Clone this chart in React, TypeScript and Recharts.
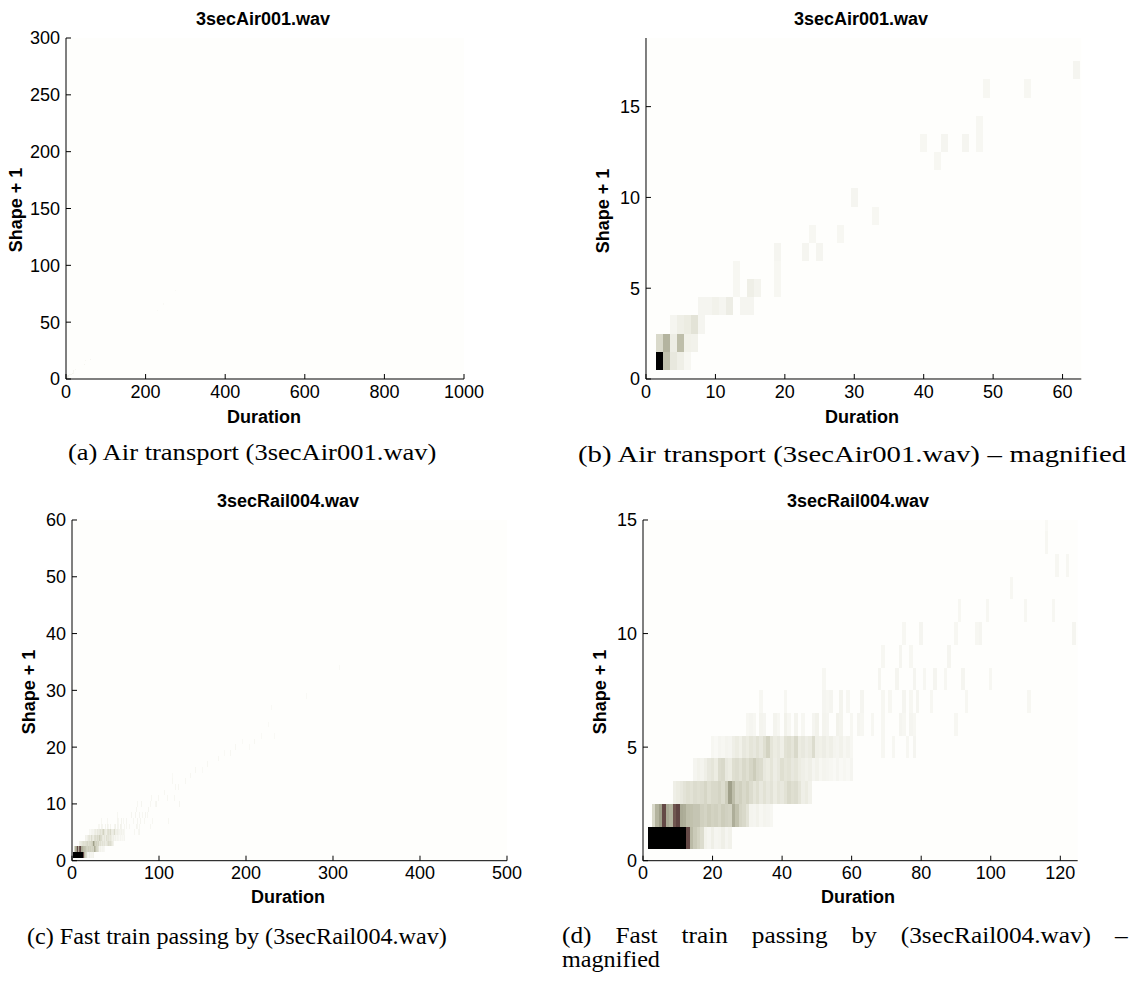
import React from "react"
import { ScatterChart, Scatter, XAxis, YAxis, ReferenceArea } from "recharts"

const SANS = "'Liberation Sans', Arial, Helvetica, sans-serif"
const SERIF = "'Liberation Serif', 'Times New Roman', serif"
const BG = "#fefefc"

// 3secAir001.wav — one list per "Shape + 1" row, entries are [duration, intensity %]
const airShape1 = [[2, 100], [3, 38], [4, 12], [5, 8], [6, 3]]
const airShape2 = [[2, 22], [3, 45], [4, 9], [5, 40], [6, 7], [7, 6]]
const airShape3 = [[4, 4], [5, 8], [6, 10], [7, 15], [8, 4]]
const airShape4 = [[8, 4], [9, 4], [10, 6], [11, 4], [12, 9], [14, 4], [15, 4]]
const airShape5 = [[13, 3], [15, 8], [16, 5], [19, 3]]
const airShape6 = [[13, 3], [19, 3]]
const airShape7 = [[19, 4], [23, 4], [25, 4]]
const airShape8 = [[24, 3], [28, 3]]
const airShape9 = [[33, 3]]
const airShape10 = [[30, 4]]
const airShape11: number[][] = []
const airShape12 = [[42, 3]]
const airShape13 = [[40, 3], [43, 4], [46, 4], [48, 3]]
const airShape14 = [[48, 3]]
const airShape15: number[][] = []
const airShape16 = [[49, 3], [55, 3]]
const airShape17 = [[62, 4]]
// faint cells outside the magnified window: [duration, shape + 1, intensity %]
const airFaint = [[230, 60, 2], [245, 66, 2], [262, 72, 2], [275, 78, 2]]

// 3secRail004.wav
const railShape1 = [
  [2, 100], [3, 100], [4, 100], [5, 100], [6, 100], [7, 100], [8, 100], [9, 100], [10, 100], [11, 100], [12, 100],
  [13, 80], [14, 42], [15, 32], [16, 26], [17, 20], [18, 6], [19, 4], [20, 8], [21, 4], [22, 5], [23, 8], [24, 4], [25, 6],
]
const railShape2 = [
  [3, 22], [4, 45], [5, 55], [6, 80], [7, 50], [8, 45], [9, 75], [10, 82], [11, 50], [12, 48], [13, 40], [14, 38],
  [15, 35], [16, 35], [17, 28], [18, 25], [19, 30], [20, 26], [21, 28], [22, 24], [23, 30], [24, 27], [25, 25],
  [26, 48], [27, 38], [28, 25], [29, 22], [30, 15], [31, 5], [32, 4], [33, 6], [34, 3], [35, 5], [36, 4], [37, 3],
]
const railShape3 = [
  [9, 8], [10, 10], [11, 12], [12, 15], [13, 18], [14, 16], [15, 20], [16, 18], [17, 20], [18, 24], [19, 18], [20, 22],
  [21, 22], [22, 25], [23, 20], [24, 30], [25, 55], [26, 40], [27, 25], [28, 28], [29, 22], [30, 26], [31, 20], [32, 14],
  [33, 18], [34, 12], [35, 16], [36, 12], [37, 15], [38, 10], [39, 14], [40, 12], [41, 16], [42, 22], [43, 18], [44, 20],
  [45, 14], [46, 8], [47, 10], [48, 6],
]
const railShape4 = [
  [15, 4], [16, 6], [17, 5], [18, 8], [19, 12], [20, 14], [21, 10], [22, 20], [23, 22], [24, 12], [25, 10], [26, 18],
  [27, 20], [28, 16], [29, 22], [30, 18], [31, 24], [32, 30], [33, 22], [34, 20], [35, 12], [36, 10], [37, 14], [38, 9],
  [39, 12], [40, 18], [41, 14], [42, 16], [43, 12], [44, 14], [45, 10], [46, 8], [47, 6], [48, 8], [49, 4], [50, 6],
  [51, 3], [52, 5], [53, 4], [54, 3], [55, 2], [56, 4], [57, 2], [58, 3], [59, 2], [60, 4],
]
const railShape5 = [
  [20, 3], [21, 2], [22, 4], [23, 3], [24, 5], [25, 4], [26, 8], [27, 10], [28, 7], [29, 12], [30, 10], [31, 14],
  [32, 12], [33, 16], [34, 12], [35, 18], [36, 26], [37, 14], [38, 10], [39, 12], [40, 8], [41, 16], [42, 18], [43, 14],
  [44, 22], [45, 10], [46, 12], [47, 9], [48, 11], [49, 20], [50, 8], [51, 7], [52, 9], [53, 6], [54, 8], [55, 5],
  [56, 4], [57, 6], [58, 3], [59, 5], [60, 3], [69, 3], [72, 3], [76, 3], [78, 4],
]
const railShape6 = [
  [30, 3], [31, 4], [32, 3], [34, 5], [35, 4], [38, 5], [39, 3], [41, 6], [42, 3], [44, 5], [46, 3], [49, 4], [50, 6],
  [52, 5], [53, 4], [56, 6], [57, 5], [60, 3], [62, 4], [63, 3], [66, 3], [69, 3], [74, 4], [75, 3], [77, 4], [78, 3], [90, 3],
]
const railShape7 = [
  [34, 3], [41, 3], [52, 4], [53, 3], [54, 4], [57, 5], [59, 3], [63, 4], [69, 3], [71, 3], [75, 4], [77, 3], [79, 4],
  [83, 3], [93, 3], [111, 3],
]
const railShape8 = [[52, 3], [68, 4], [73, 4], [78, 4], [81, 3], [84, 4], [87, 3], [92, 4], [100, 3]]
const railShape9 = [[69, 3], [74, 4], [77, 3], [88, 4]]
const railShape10 = [[75, 3], [80, 4], [90, 3], [96, 3], [97, 4], [124, 4]]
const railShape11 = [[91, 3], [99, 3], [110, 3], [118, 3]]
const railShape12 = [[106, 3]]
const railShape13 = [[119, 3], [122, 3]]
const railShape14 = [[116, 3]]
const railShape15 = [[116, 2]]
const railFaint = [
  [130, 14, 3], [136, 15, 3], [142, 16, 3], [150, 16, 2], [156, 17, 3], [162, 17, 2], [168, 18, 3], [175, 19, 2],
  [182, 19, 3], [188, 20, 3], [196, 21, 2], [204, 20, 2], [210, 21, 3], [218, 22, 2], [226, 24, 2], [229, 27, 2],
  [233, 22, 2], [270, 29, 2], [307, 34, 2],
]

const airRows = [airShape1, airShape2, airShape3, airShape4, airShape5, airShape6, airShape7, airShape8, airShape9,
  airShape10, airShape11, airShape12, airShape13, airShape14, airShape15, airShape16, airShape17]
const railRows = [railShape1, railShape2, railShape3, railShape4, railShape5, railShape6, railShape7, railShape8,
  railShape9, railShape10, railShape11, railShape12, railShape13, railShape14, railShape15]

type Cell = { d: number; s: number; v: number }

function toCells(rows: number[][][], extra: number[][]): Cell[] {
  const out: Cell[] = []
  rows.forEach((row, i) => row.forEach(([d, v]) => out.push({ d, s: i + 1, v })))
  extra.forEach(([d, s, v]) => out.push({ d, s, v }))
  return out
}

const airCells = toCells(airRows, airFaint)
const railCells = toCells(railRows, railFaint)

// white -> olive grey -> brown -> black
const stops: [number, number[]][] = [
  [0, [254, 254, 252]], [3, [247, 247, 242]], [8, [239, 239, 231]], [15, [227, 227, 215]],
  [25, [212, 212, 196]], [40, [190, 190, 170]], [55, [160, 160, 138]], [65, [140, 126, 110]],
  [75, [112, 86, 80]], [85, [88, 60, 60]], [95, [30, 20, 20]], [100, [0, 0, 0]],
]

function heat(v: number) {
  for (let i = 1; i < stops.length; i++) {
    const [v1, c1] = stops[i]
    const [v0, c0] = stops[i - 1]
    if (v <= v1) {
      const t = (v - v0) / (v1 - v0)
      const c = c0.map((a, k) => Math.round(a + (c1[k] - a) * t))
      return `rgb(${c[0]},${c[1]},${c[2]})`
    }
  }
  return "#000"
}

const panels = [
  {
    id: "a", cells: airCells, left: 66, top: 38, right: 464, bottom: 379, xMax: 1000, yMax: 300,
    xTicks: [0, 200, 400, 600, 800, 1000], yTicks: [0, 50, 100, 150, 200, 250, 300],
    title: "3secAir001.wav", titleX: 263, titleY: 25, durX: 264, durY: 423, ylabX: 16, ylabY: 210,
  },
  {
    id: "b", cells: airCells, left: 645.7, top: 38, right: 1081, bottom: 379, xMax: 62.7, yMax: 18.78,
    xTicks: [0, 10, 20, 30, 40, 50, 60], yTicks: [0, 5, 10, 15],
    title: "3secAir001.wav", titleX: 861, titleY: 25, durX: 862, durY: 423, ylabX: 603, ylabY: 211,
  },
  {
    id: "c", cells: railCells, left: 72, top: 520, right: 507, bottom: 860.7, xMax: 500, yMax: 60,
    xTicks: [0, 100, 200, 300, 400, 500], yTicks: [0, 10, 20, 30, 40, 50, 60],
    title: "3secRail004.wav", titleX: 288, titleY: 507, durX: 288, durY: 903, ylabX: 29, ylabY: 692,
  },
  {
    id: "d", cells: railCells, left: 642.6, top: 520, right: 1077.3, bottom: 860.7, xMax: 125, yMax: 15,
    xTicks: [0, 20, 40, 60, 80, 100, 120], yTicks: [0, 5, 10, 15],
    title: "3secRail004.wav", titleX: 858, titleY: 507, durX: 858, durY: 903, ylabX: 600, ylabY: 692,
  },
]

const captions = [
  { text: "(a) Air transport (3secAir001.wav)", x: 68, y: 460, w: 370, maxStretch: 1.25 },
  { text: "(b) Air transport (3secAir001.wav) \u2013 magnified", x: 578, y: 462, w: 550, maxStretch: 1.25 },
  { text: "(c) Fast train passing by (3secRail004.wav)", x: 27, y: 944, w: 420, maxStretch: 1.25 },
  { text: "(d) Fast train passing by (3secRail004.wav) \u2013", x: 562, y: 943, w: 566, maxStretch: 1.1 },
  { text: "magnified", x: 562, y: 967, w: 98, maxStretch: 1.25 },
]

const CAPTION_SIZE = 23

let measureCtx: CanvasRenderingContext2D | null = null
function textWidth(text: string) {
  if (!measureCtx) measureCtx = document.createElement("canvas").getContext("2d")
  if (!measureCtx) return text.length * CAPTION_SIZE * 0.45
  measureCtx.font = `${CAPTION_SIZE}px 'Liberation Serif'`
  return measureCtx.measureText(text).width
}

function Caption({ text, x, y, w, maxStretch }: { text: string; x: number; y: number; w: number; maxStretch: number }) {
  // widen the glyphs a bit (closer to Computer Modern), put what is left into the spaces
  const natural = textWidth(text)
  const spaces = text.split(" ").length - 1
  const sx = spaces > 0 ? Math.min(w / natural, maxStretch) : w / natural
  const extra = spaces > 0 ? Math.max(0, (w / sx - natural) / spaces) : 0
  return (
    <text
      transform={`translate(${x} ${y}) scale(${sx} 1)`}
      fontFamily={SERIF}
      fontSize={CAPTION_SIZE}
      fill="#000"
      style={{ wordSpacing: `${extra}px` }}
    >
      {text}
    </text>
  )
}

type PanelDef = (typeof panels)[number]

function HeatPanel({ p }: { p: PanelDef }) {
  const ML = 60
  const MT = 10
  const MR = 30
  const XH = 40
  const W = p.right - p.left + ML + MR
  const H = p.bottom - p.top + MT + XH
  const cells = p.cells.filter((c) => c.d - 0.5 < p.xMax && c.s - 0.5 < p.yMax)
  const axisStyle = { stroke: "#000", strokeWidth: 1 }
  const tickStyle = { fill: "#000", fontSize: 18, fontFamily: SANS }

  return (
    <div style={{ position: "absolute", left: p.left - ML, top: p.top - MT, width: W, height: H }}>
      <ScatterChart width={W} height={H} margin={{ top: MT, right: MR, bottom: 0, left: 0 }}>
        <ReferenceArea x1={0} x2={p.xMax} y1={0} y2={p.yMax} fill={BG} fillOpacity={1} stroke="none" />
        {cells.map((c) => (
          <ReferenceArea
            key={`${c.d}-${c.s}`}
            x1={c.d - 0.5}
            x2={Math.min(c.d + 0.5, p.xMax)}
            y1={c.s - 0.5}
            y2={Math.min(c.s + 0.5, p.yMax)}
            fill={heat(c.v)}
            fillOpacity={1}
            stroke="none"
            ifOverflow="hidden"
            shapeRendering="crispEdges"
          />
        ))}
        <Scatter data={cells} dataKey="s" isAnimationActive={false} legendType="none" shape={() => <g />} />
        <XAxis
          type="number"
          dataKey="d"
          domain={[0, p.xMax]}
          ticks={p.xTicks}
          allowDataOverflow
          interval={0}
          height={XH}
          tickSize={-5}
          tickMargin={11}
          axisLine={axisStyle}
          tickLine={axisStyle}
          tick={tickStyle}
        />
        <YAxis
          type="number"
          dataKey="s"
          domain={[0, p.yMax]}
          ticks={p.yTicks}
          allowDataOverflow
          interval={0}
          width={ML}
          tickSize={-5}
          tickMargin={11}
          axisLine={axisStyle}
          tickLine={axisStyle}
          tick={tickStyle}
        />
      </ScatterChart>
    </div>
  )
}

export default function App() {
  return (
    <div style={{ position: "absolute", left: 0, top: 0, width: 1141, height: 985, background: "#fff" }}>
      {panels.map((p) => (
        <HeatPanel key={p.id} p={p} />
      ))}
      <svg width={1141} height={985} style={{ position: "absolute", left: 0, top: 0, pointerEvents: "none" }}>
        {panels.map((p) => (
          <g key={p.id} fill="#000" fontFamily={SANS} fontWeight="bold" fontSize={18}>
            <text x={p.titleX} y={p.titleY} textAnchor="middle">{p.title}</text>
            <text x={p.durX} y={p.durY} textAnchor="middle">Duration</text>
            <text
              x={p.ylabX}
              y={p.ylabY}
              textAnchor="middle"
              dominantBaseline="central"
              transform={`rotate(-90 ${p.ylabX} ${p.ylabY})`}
            >
              Shape + 1
            </text>
          </g>
        ))}
        {captions.map((c) => (
          <Caption key={c.text} {...c} />
        ))}
      </svg>
    </div>
  )
}
